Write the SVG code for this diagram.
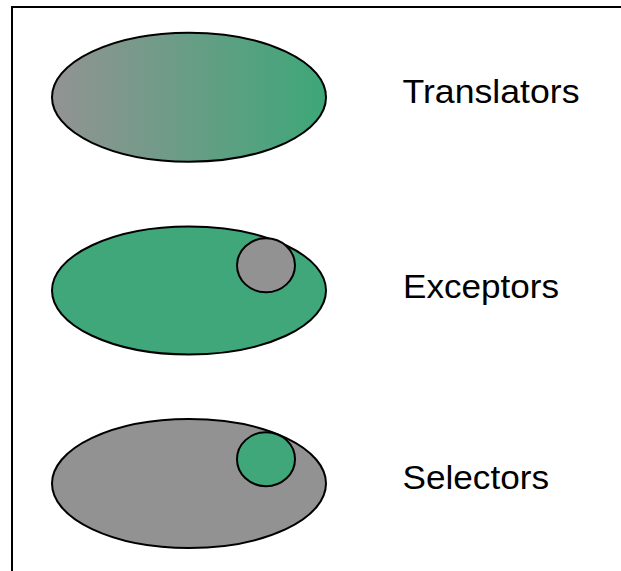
<svg xmlns="http://www.w3.org/2000/svg" width="621" height="571" viewBox="0 0 621 571">
  <defs>
    <linearGradient id="gradGG" x1="0" y1="0" x2="1" y2="0">
      <stop offset="0" stop-color="#939393"/>
      <stop offset="1" stop-color="#3DA778"/>
    </linearGradient>
    <style>
      .shape { stroke: #000; stroke-width: 2; }
      .gray { fill: #929292; }
      .green { fill: #3FA779; }
      .label { font-family: "Liberation Sans", Arial, sans-serif; font-size: 33px; fill: #000; }
    </style>
  </defs>
  <rect x="0" y="0" width="621" height="571" fill="#fff"/>
  <path d="M12 575 L12 7 L625 7" fill="none" stroke="#000" stroke-width="2"/>
  <g id="translators">
    <ellipse class="shape" cx="189" cy="97.2" rx="137" ry="64.5" fill="url(#gradGG)"/>
    <text class="label" x="402.5" y="102.5" textLength="177" lengthAdjust="spacingAndGlyphs">Translators</text>
  </g>
  <g id="exceptors">
    <ellipse class="shape green" cx="189" cy="290.5" rx="137" ry="64"/>
    <ellipse class="shape gray" cx="266" cy="265.3" rx="29" ry="27"/>
    <text class="label" x="403" y="298" textLength="156" lengthAdjust="spacingAndGlyphs">Exceptors</text>
  </g>
  <g id="selectors">
    <ellipse class="shape gray" cx="189" cy="483.5" rx="137" ry="64.5"/>
    <ellipse class="shape green" cx="266" cy="459.2" rx="29" ry="27"/>
    <text class="label" x="402.5" y="488.5" textLength="146.5" lengthAdjust="spacingAndGlyphs">Selectors</text>
  </g>
  <g id="connectors"/>
</svg>
